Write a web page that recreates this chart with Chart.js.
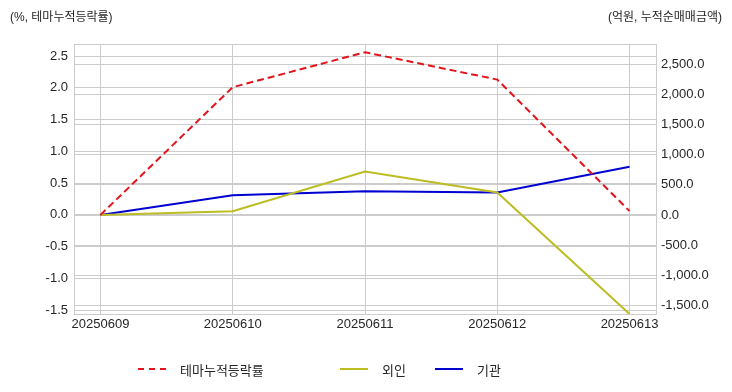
<!DOCTYPE html>
<html>
<head>
<meta charset="utf-8">
<script src="https://cdn.jsdelivr.net/npm/chart.js@4"></script>
<style>
  body { margin: 0; background: #fff; font-family: "Liberation Sans", "Noto Sans CJK KR", sans-serif; }
  #wrap { position: relative; width: 732px; height: 392px; }
  .unit { position: absolute; top: 7px; font-size: 12px; color: #262626; }
  #legend { position: absolute; top: 360px; left: 0; width: 732px; height: 20px; font-size: 13px; color: #262626; }
  .item { position: absolute; top: 0; display: flex; align-items: center; height: 18px; }
  .sample { width: 28px; height: 0; margin-right: 14px; }
</style>
</head>
<body>
<div id="wrap">
  <canvas id="chart" width="732" height="392"></canvas>
  <div class="unit" style="left:10px">(%, 테마누적등락률)</div>
  <div class="unit" style="right:10px">(억원, 누적순매매금액)</div>
  <div id="legend">
    <div class="item" style="left:138px"><span class="sample" style="border-top:2px dashed #e3141c"></span>테마누적등락률</div>
    <div class="item" style="left:340px"><span class="sample" style="border-top:2px solid #bcbd22"></span>외인</div>
    <div class="item" style="left:435px"><span class="sample" style="border-top:2px solid #0000d0"></span>기관</div>
  </div>
</div>
<script>
'use strict';

// dates on the x axis
var dates = ['20250609', '20250610', '20250611', '20250612', '20250613'];

// left axis: theme cumulative change (%)
var themeRate = [0.0, 2.01, 2.56, 2.13, 0.06];
// right axis: cumulative net buying (억원)
var foreign = [0, 62, 722, 372, -1640];
var institution = [0, 328, 395, 372, 800];

var leftTicks = [-1.5, -1.0, -0.5, 0.0, 0.5, 1.0, 1.5, 2.0, 2.5];
var rightTicks = [-1500, -1000, -500, 0, 500, 1000, 1500, 2000, 2500];

function points(arr) {
  return arr.map(function (v, i) { return { x: i, y: v }; });
}

var tickFont = { family: '"Liberation Sans", "Noto Sans CJK KR", sans-serif', size: 13 };
var gridColor = '#cccccc';

// box around the plot area (top edge is otherwise missing)
var frame = {
  id: 'frame',
  beforeDatasetsDraw: function (chart) {
    var a = chart.chartArea, c = chart.ctx;
    c.save();
    c.strokeStyle = gridColor;
    c.lineWidth = 1;
    c.beginPath();
    c.moveTo(a.left, a.top + 0.5);
    c.lineTo(a.right, a.top + 0.5);
    c.stroke();
    c.restore();
  }
};

var ctx = document.getElementById('chart').getContext('2d');
var chart = new Chart(ctx, {
  type: 'line',
  data: {
    datasets: [{
      label: '테마누적등락률',
      data: points(themeRate),
      yAxisID: 'yL',
      borderColor: '#e3141c',
      borderWidth: 2,
      borderDash: [7, 4],
      pointRadius: 0,
      tension: 0
    }, {
      label: '외인',
      data: points(foreign),
      yAxisID: 'yR',
      borderColor: '#bcbd22',
      borderWidth: 2,
      pointRadius: 0,
      tension: 0
    }, {
      label: '기관',
      data: points(institution),
      yAxisID: 'yR',
      borderColor: '#0000d0',
      borderWidth: 2,
      pointRadius: 0,
      tension: 0
    }]
  },
  plugins: [frame],
  options: {
    responsive: false,
    animation: false,
    layout: { padding: { top: 44, left: 0, right: 0, bottom: 0 } },
    plugins: { legend: { display: false }, tooltip: { enabled: false } },
    scales: {
      x: {
        type: 'linear',
        min: -0.2,
        max: 4.2,
        afterBuildTicks: function (scale) {
          scale.ticks = dates.map(function (d, i) { return { value: i }; });
        },
        afterFit: function (scale) { scale.height = 78; },
        ticks: {
          color: '#262626',
          font: tickFont,
          padding: 3,
          maxRotation: 0,
          callback: function (v) { return dates[v]; }
        },
        grid: { color: gridColor, drawTicks: false },
        border: { color: gridColor }
      },
      yL: {
        position: 'left',
        min: -1.56,
        max: 2.69,
        afterBuildTicks: function (scale) {
          scale.ticks = leftTicks.map(function (v) { return { value: v }; });
        },
        afterFit: function (scale) { scale.width = 74; },
        ticks: {
          color: '#262626',
          font: tickFont,
          padding: 6,
          callback: function (v) { return v.toFixed(1); }
        },
        grid: { color: gridColor, drawTicks: false },
        border: { color: gridColor }
      },
      yR: {
        position: 'right',
        min: -1640,
        max: 2833,
        afterBuildTicks: function (scale) {
          scale.ticks = rightTicks.map(function (v) { return { value: v }; });
        },
        afterFit: function (scale) { scale.width = 76; },
        ticks: {
          color: '#262626',
          font: tickFont,
          padding: 5,
          callback: function (v) {
            return v.toLocaleString('en-US', { minimumFractionDigits: 1, maximumFractionDigits: 1 });
          }
        },
        grid: { color: gridColor, drawTicks: false },
        border: { color: gridColor }
      }
    }
  }
});
</script>
</body>
</html>
